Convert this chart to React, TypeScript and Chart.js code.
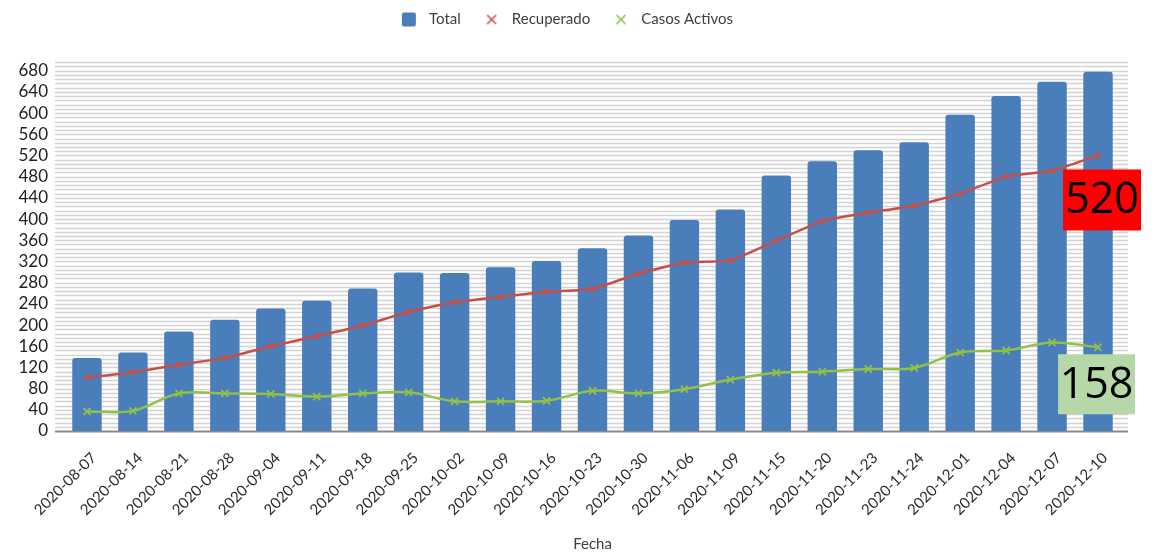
import React, { useEffect, useRef } from 'react';
import { Chart, registerables } from 'chart.js';

Chart.register(...registerables);

const categories = [
  '2020-08-07', '2020-08-14', '2020-08-21', '2020-08-28', '2020-09-04', '2020-09-11',
  '2020-09-18', '2020-09-25', '2020-10-02', '2020-10-09', '2020-10-16', '2020-10-23',
  '2020-10-30', '2020-11-06', '2020-11-09', '2020-11-15', '2020-11-20', '2020-11-23',
  '2020-11-24', '2020-12-01', '2020-12-04', '2020-12-07', '2020-12-10',
];
const totalValues = [138, 148, 188, 210, 231, 246, 269, 299, 298, 309, 321, 345, 369, 398, 418, 482, 509, 530, 545, 597, 632, 659, 678];
const recuperadoValues = [101, 111, 125, 138, 160, 179, 199, 225, 243, 253, 263, 268, 297, 318, 322, 359, 396, 412, 425, 448, 480, 491, 520];
const activosValues = [37, 38, 71, 71, 70, 65, 71, 73, 56, 56, 57, 76, 71, 79, 97, 110, 112, 117, 119, 148, 152, 167, 158];
const seriesLabels = ['Total', 'Recuperado', 'Casos Activos'];
const yTickStep = 40;
const yMinorStep = 8;
const yMax = 696;
const xTitle = 'Fecha';

const BLUE = '#4a7ebb';
const RED = '#c4504c';
const GREEN = '#93c047';

function makeLegendIcon(kind: 'square' | 'x', color: string): HTMLCanvasElement {
  const c = document.createElement('canvas');
  c.width = 34;
  c.height = 16;
  const ctx = c.getContext('2d')!;
  const cx = 21;
  const cy = 8;
  if (kind === 'square') {
    ctx.fillStyle = color;
    const s = 14;
    const r = 2;
    const x = cx - s / 2;
    const y = cy - s / 2;
    ctx.beginPath();
    ctx.moveTo(x + r, y);
    ctx.lineTo(x + s - r, y);
    ctx.quadraticCurveTo(x + s, y, x + s, y + r);
    ctx.lineTo(x + s, y + s - r);
    ctx.quadraticCurveTo(x + s, y + s, x + s - r, y + s);
    ctx.lineTo(x + r, y + s);
    ctx.quadraticCurveTo(x, y + s, x, y + s - r);
    ctx.lineTo(x, y + r);
    ctx.quadraticCurveTo(x, y, x + r, y);
    ctx.fill();
  } else {
    ctx.strokeStyle = color;
    ctx.lineWidth = 1.6;
    const h = 4.5;
    ctx.beginPath();
    ctx.moveTo(cx - h, cy - h);
    ctx.lineTo(cx + h, cy + h);
    ctx.moveTo(cx + h, cy - h);
    ctx.lineTo(cx - h, cy + h);
    ctx.stroke();
  }
  return c;
}

const gridPlugin = {
  id: 'customGrid',
  beforeDatasetsDraw(chart: any) {
    const { ctx, chartArea, scales } = chart;
    const y = scales.y;
    ctx.save();
    for (let v = 0; v <= yMax; v += yMinorStep) {
      const py = Math.round(y.getPixelForValue(v)) + 0.5;
      ctx.beginPath();
      ctx.strokeStyle = v === 0 ? '#8a8a8a' : '#d3d3d3';
      ctx.lineWidth = v === 0 ? 2 : 1.3;
      ctx.moveTo(chartArea.left - 9, py);
      ctx.lineTo(chartArea.right + 7, py);
      ctx.stroke();
    }
    ctx.restore();
  },
};

const calloutPlugin = {
  id: 'callouts',
  afterDraw(chart: any) {
    const { ctx } = chart;
    const items = [
      { ds: 1, bg: '#ff0000', dx: 4, dy: 14, w: 78, h: 61 },
      { ds: 2, bg: '#b6d7a8', dx: -1.5, dy: 7, w: 77, h: 60 },
    ];
    ctx.save();
    items.forEach((it) => {
      const meta = chart.getDatasetMeta(it.ds);
      const data = chart.data.datasets[it.ds].data as number[];
      const last = meta.data[meta.data.length - 1];
      const value = data[data.length - 1];
      const cx = last.x + it.dx;
      const top = last.y + it.dy;
      ctx.fillStyle = it.bg;
      ctx.fillRect(cx - it.w / 2, top, it.w, it.h);
      ctx.fillStyle = '#000';
      ctx.font = '43px "Open Sans", "Noto Sans", sans-serif';
      ctx.textAlign = 'center';
      ctx.textBaseline = 'middle';
      ctx.fillText(String(value), cx, top + it.h / 2 + 1);
    });
    ctx.restore();
  },
};

export default function App() {
  const ref = useRef<HTMLCanvasElement | null>(null);

  useEffect(() => {
    if (!ref.current) return;
    const icons = [
      makeLegendIcon('square', BLUE),
      makeLegendIcon('x', RED),
      makeLegendIcon('x', GREEN),
    ];
    const chart = new Chart(ref.current, {
      type: 'bar',
      data: {
        labels: categories,
        datasets: [
          {
            type: 'bar',
            label: seriesLabels[0],
            data: totalValues,
            backgroundColor: BLUE,
            borderRadius: { topLeft: 3, topRight: 3, bottomLeft: 0, bottomRight: 0 },
            borderSkipped: false,
            barPercentage: 0.64,
            categoryPercentage: 1,
            order: 3,
          },
          {
            type: 'line',
            label: seriesLabels[1],
            data: recuperadoValues,
            borderColor: RED,
            backgroundColor: RED,
            borderWidth: 2.5,
            tension: 0.15,
            pointStyle: 'crossRot',
            pointRadius: 3.5,
            pointBorderWidth: 2,
            pointBorderColor: RED,
            order: 2,
          },
          {
            type: 'line',
            label: seriesLabels[2],
            data: activosValues,
            borderColor: GREEN,
            backgroundColor: GREEN,
            borderWidth: 2.5,
            tension: 0.35,
            pointStyle: 'crossRot',
            pointRadius: 5,
            pointBorderWidth: 1.8,
            pointBorderColor: GREEN,
            order: 1,
          },
        ],
      },
      options: {
        responsive: false,
        animation: false,
        layout: { padding: { top: 2, right: 34, bottom: 0, left: 0 } },
        plugins: {
          tooltip: { enabled: false },
          title: {
            display: true,
            text: '',
            weight: 500,
            font: { size: 1 },
            padding: { top: 24, bottom: 0 },
          },
          legend: {
            position: 'top',
            labels: {
              usePointStyle: true,
              pointStyleWidth: 33.5,
              boxHeight: 15,
              padding: 10,
              color: '#404040',
              font: { family: 'Lato, "Noto Sans", sans-serif', size: 15 },
              generateLabels: (c: any) =>
                c.data.datasets.map((ds: any, i: number) => ({
                  text: ds.label,
                  pointStyle: icons[i],
                  fillStyle: 'transparent',
                  strokeStyle: 'transparent',
                  lineWidth: 0,
                  hidden: false,
                  datasetIndex: i,
                  fontColor: '#404040',
                })),
            },
          },
        },
        scales: {
          x: {
            grid: { display: false, drawTicks: false },
            border: { display: false },
            ticks: {
              autoSkip: false,
              maxRotation: 45,
              minRotation: 45,
              padding: 18,
              labelOffset: 7,
              color: '#2a2a2a',
              font: { family: 'Lato, "Noto Sans", sans-serif', size: 15 },
            },
            title: {
              display: true,
              text: xTitle,
              color: '#404040',
              padding: { top: 0, bottom: 0 },
              font: { family: 'Lato, "Noto Sans", sans-serif', size: 15 },
            },
            afterFit: (scale: any) => {
              scale.height = 122;
            },
          },
          y: {
            min: 0,
            max: yMax,
            grid: { display: false, drawTicks: false },
            border: { display: false },
            ticks: {
              stepSize: yMinorStep,
              autoSkip: false,
              padding: 16,
              color: '#222',
              font: { family: 'Lato, "Noto Sans", sans-serif', size: 17 },
              callback: (v: any) => (Number(v) % yTickStep === 0 ? String(v) : ''),
            },
            afterFit: (scale: any) => {
              scale.width = 64;
            },
          },
        },
      },
      plugins: [gridPlugin, calloutPlugin],
    } as any);
    return () => chart.destroy();
  }, []);

  return (
    <div style={{ position: 'fixed', left: 0, top: 0, width: 1155, height: 553, background: '#fff' }}>
      <canvas ref={ref} width={1155} height={553} />
    </div>
  );
}
